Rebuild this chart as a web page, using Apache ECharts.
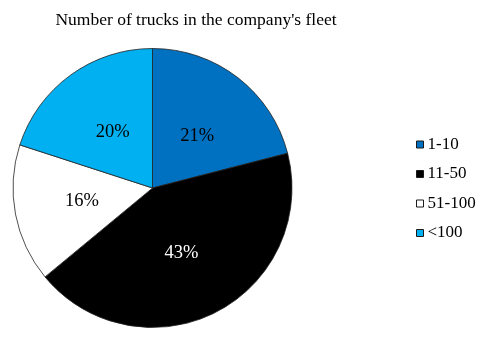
<!DOCTYPE html>
<html>
<head>
<meta charset="utf-8">
<script src="https://cdn.jsdelivr.net/npm/echarts@6/dist/echarts.min.js"></script>
<style>
  html, body { margin: 0; padding: 0; background: #fff; }
  #chart { width: 488px; height: 340px; }
</style>
</head>
<body>
<div id="chart"></div>
<script>
// Fleet size groups and their share of companies (percent)
const categories = ['1-10', '11-50', '51-100', '<100'];
const shares = [21, 43, 16, 20];

// Slice styling
const sliceColors = ['#0070C0', '#000000', '#FFFFFF', '#00B0F0'];
const labelColors = ['#000000', '#FFFFFF', '#000000', '#000000'];
const labelNudge = [[0, 6], [-4, 0], [1, 0], [3, 3]];

const serif = '"Liberation Serif", "Times New Roman", serif';

const chart = echarts.init(document.getElementById('chart'), null, { renderer: 'canvas' });

chart.setOption({
  animation: false,
  backgroundColor: '#ffffff',
  title: {
    text: "Number of trucks in the company's fleet",
    left: 191,
    textAlign: 'center',
    top: 6,
    textStyle: { fontFamily: serif, fontSize: 17.5, fontWeight: 'normal', color: '#000' }
  },
  legend: {
    orient: 'vertical',
    left: 411,
    top: 131,
    itemWidth: 7,
    itemHeight: 7,
    itemGap: 12.5,
    icon: 'rect',
    data: categories,
    itemStyle: { borderColor: '#1a1a1a', borderWidth: 1 },
    textStyle: { fontFamily: serif, fontSize: 17, color: '#000', padding: [0, 0, 0, -1] }
  },
  series: [{
    type: 'pie',
    center: [152.5, 188],
    radius: 139.5,
    startAngle: 90,
    clockwise: true,
    label: {
      show: true,
      position: 'inside',
      fontFamily: serif,
      fontSize: 18.5,
      formatter: p => p.value + '%'
    },
    labelLine: { show: false },
    itemStyle: { borderColor: '#222', borderWidth: 0.8 },
    emphasis: { disabled: true },
    data: categories.map((name, i) => ({
      name: name,
      value: shares[i],
      itemStyle: { color: sliceColors[i] },
      label: { color: labelColors[i], offset: labelNudge[i] }
    }))
  }]
});
</script>
</body>
</html>
